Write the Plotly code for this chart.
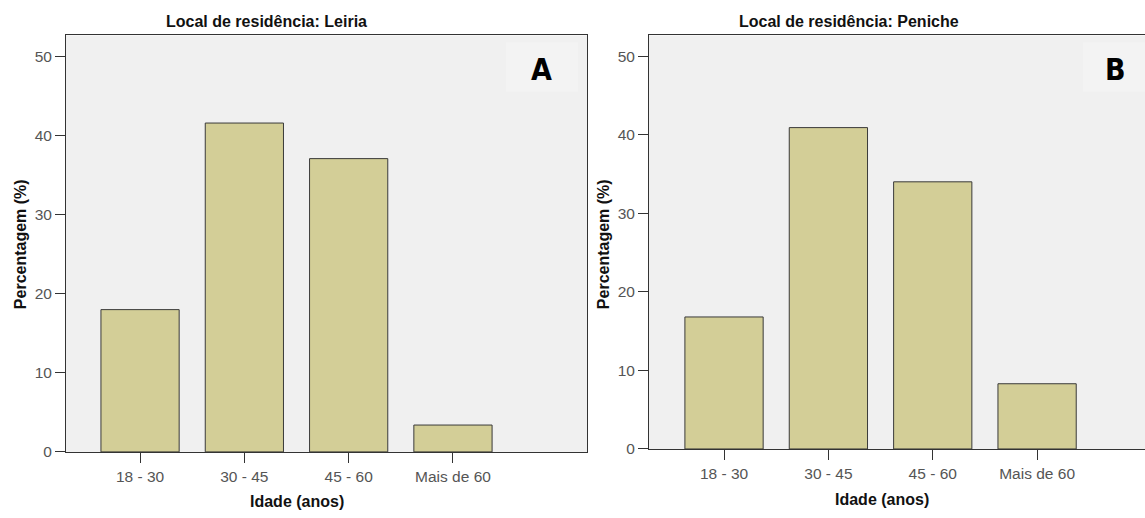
import plotly.graph_objects as go

categories = ["18 - 30", "30 - 45", "45 - 60", "Mais de 60"]
leiria = [18.0, 41.6, 37.1, 3.4]
peniche = [16.8, 40.9, 34.0, 8.3]
y_ticks = [0, 10, 20, 30, 40, 50]
titles = ["Local de residência: Leiria", "Local de residência: Peniche"]
panel_letters = ["A", "B"]
x_title = "Idade (anos)"
y_title = "Percentagem (%)"

W, H = 1145, 518
BAR = "#D3CE97"
EDGE = "#3A3A3A"
BG = "#F0F0F0"
FONT = "Liberation Sans, Arial, sans-serif"

fig = go.Figure()
fig.add_trace(go.Bar(x=categories, y=leiria, xaxis="x", yaxis="y", width=0.75,
                     marker=dict(color=BAR, line=dict(color=EDGE, width=1))))
fig.add_trace(go.Bar(x=categories, y=peniche, xaxis="x2", yaxis="y2", width=0.75,
                     marker=dict(color=BAR, line=dict(color=EDGE, width=1))))


def px(x):
    return x / W


def py(y):
    return 1 - y / H


axis_common = dict(showgrid=False, zeroline=False, showline=True, linecolor="#333333", linewidth=1,
                   ticks="outside", ticklen=10, tickcolor="#333333", tickwidth=1,
                   tickfont=dict(family=FONT, size=15.5, color="#555555"))

fig.update_layout(
    width=W, height=H, autosize=False, margin=dict(l=0, r=0, t=0, b=0),
    paper_bgcolor="white", plot_bgcolor=BG, showlegend=False, bargap=0.25,
    xaxis=dict(domain=[px(66), px(587)], anchor="y", type="category", range=[-0.71, 4.285],
               mirror=True, **axis_common),
    yaxis=dict(domain=[py(459), py(36)], anchor="x", range=[0, 52.68], tickvals=y_ticks,
               mirror=True, **axis_common),
    xaxis2=dict(domain=[px(649), 1.0], anchor="y2", type="category", range=[-0.719, 4.034],
                mirror=True, **axis_common),
    yaxis2=dict(domain=[py(456), py(36)], anchor="x2", range=[0, 52.63], tickvals=y_ticks,
                **axis_common),
)

shapes = []
shapes.append(dict(type="rect", xref="paper", yref="paper", x0=px(506), x1=px(578), y0=py(93), y1=py(43),
                   fillcolor="#F3F3F3", line=dict(width=0), layer="below"))
shapes.append(dict(type="rect", xref="paper", yref="paper", x0=px(1083), x1=px(1145), y0=py(93), y1=py(43),
                   fillcolor="#F3F3F3", line=dict(width=0), layer="below"))
fig.update_layout(shapes=shapes)

ann = []
for t, xc in zip(titles, [266, 849]):
    ann.append(dict(text=t, x=px(xc), y=py(22), xref="paper", yref="paper", showarrow=False,
                    xanchor="center", yanchor="middle",
                    font=dict(family=FONT, size=16, color="#111111", weight="bold")))
for xc, yc in [(297, 509), (882, 507)]:
    ann.append(dict(text=x_title, x=px(xc), y=py(yc), xref="paper", yref="paper", showarrow=False,
                    xanchor="center", yanchor="middle",
                    font=dict(family=FONT, size=16, color="#111111", weight="bold")))
for xc in [20, 603]:
    ann.append(dict(text=y_title, x=px(xc), y=py(248), xref="paper", yref="paper", showarrow=False,
                    xanchor="center", yanchor="middle", textangle=-90,
                    font=dict(family=FONT, size=16, color="#111111", weight="bold")))
for letter, xc in zip(panel_letters, [541, 1115]):
    ann.append(dict(text=letter, x=px(xc), y=py(71), xref="paper", yref="paper", showarrow=False,
                    xanchor="center", yanchor="middle",
                    font=dict(family="Liberation Sans Narrow, DejaVu Sans Condensed, sans-serif",
                              size=30, color="#000000", weight="bold")))
fig.update_layout(annotations=ann)

fig.write_html("out.html", config={"displayModeBar": False, "responsive": False},
               post_script="document.body.style.margin='0px';document.body.style.overflow='hidden';")
